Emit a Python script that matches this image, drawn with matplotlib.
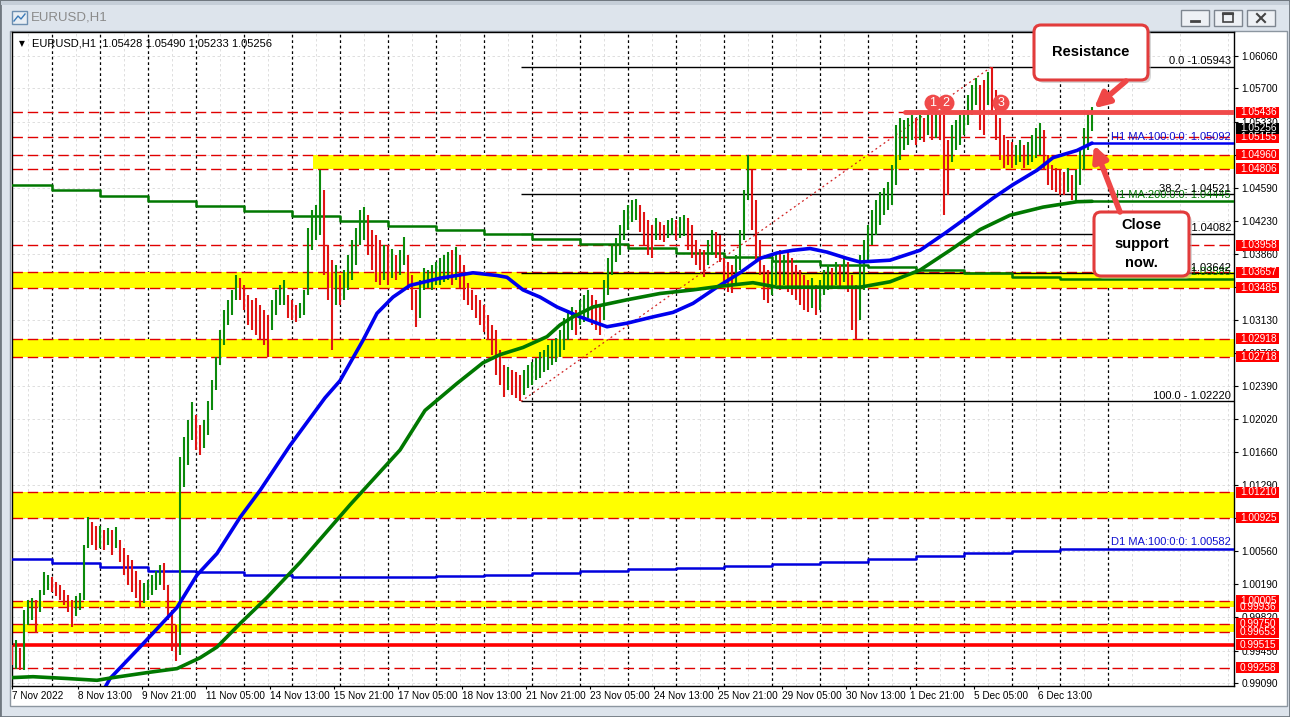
import matplotlib
matplotlib.use("Agg")
import matplotlib.pyplot as plt
from matplotlib.patches import Rectangle, FancyBboxPatch
import numpy as np

W, H = 1290, 717
SMALL = "Liberation Sans"

# hours are counted over trading time only, 0 = 7 Nov 2022 00:00
first_hour = 4
bar_step = 2   # two-hour bars

bar_high = [
    0.9951, 0.9957, 0.9948, 0.9990, 1.0001, 1.0004, 1.0001, 1.0012, 1.0032, 1.0029,
    1.0027, 1.0021, 1.0018, 1.0012, 1.0007, 1.0001, 1.0006, 1.0009, 1.0062, 1.0093, 1.0088, 1.0084,
    1.0084, 1.0079, 1.0081, 1.0079, 1.0082, 1.0068, 1.0059, 1.0051, 1.0046, 1.0034, 1.0023, 1.0020,
    1.0023, 1.0029, 1.0034, 1.0040, 1.0042, 1.0018, 0.9990, 0.9973, 1.0160, 1.0182, 1.0201, 1.0221,
    1.0207, 1.0196, 1.0201, 1.0223, 1.0246, 1.0271, 1.0301, 1.0324, 1.0335, 1.0346, 1.0362, 1.0359,
    1.0351, 1.0340, 1.0335, 1.0337, 1.0329, 1.0324, 1.0318, 1.0335, 1.0346, 1.0351, 1.0357, 1.0340,
    1.0335, 1.0329, 1.0331, 1.0346, 1.0415, 1.0435, 1.0440, 1.0479, 1.0457, 1.0396, 1.0379, 1.0374,
    1.0362, 1.0368, 1.0385, 1.0401, 1.0415, 1.0435, 1.0438, 1.0429, 1.0413, 1.0407, 1.0401, 1.0396,
    1.0396, 1.0392, 1.0385, 1.0390, 1.0405, 1.0385, 1.0362, 1.0346, 1.0357, 1.0370, 1.0368, 1.0374,
    1.0377, 1.0381, 1.0385, 1.0388, 1.0390, 1.0394, 1.0385, 1.0374, 1.0354, 1.0346, 1.0340, 1.0335,
    1.0329, 1.0318, 1.0307, 1.0301, 1.0279, 1.0262, 1.0260, 1.0257, 1.0255, 1.0251, 1.0257, 1.0262,
    1.0266, 1.0270, 1.0277, 1.0279, 1.0285, 1.0290, 1.0292, 1.0301, 1.0315, 1.0324, 1.0327, 1.0324,
    1.0335, 1.0340, 1.0346, 1.0340, 1.0335, 1.0329, 1.0357, 1.0381, 1.0396, 1.0404, 1.0418, 1.0435,
    1.0440, 1.0446, 1.0447, 1.0440, 1.0433, 1.0424, 1.0418, 1.0426, 1.0421, 1.0418, 1.0424, 1.0426,
    1.0424, 1.0427, 1.0429, 1.0426, 1.0418, 1.0401, 1.0392, 1.0390, 1.0401, 1.0413, 1.0410, 1.0407,
    1.0381, 1.0377, 1.0374, 1.0385, 1.0413, 1.0457, 1.0496, 1.0479, 1.0446, 1.0401, 1.0374, 1.0368,
    1.0379, 1.0388, 1.0390, 1.0385, 1.0388, 1.0381, 1.0374, 1.0368, 1.0362, 1.0357, 1.0359, 1.0351,
    1.0357, 1.0368, 1.0374, 1.0370, 1.0377, 1.0374, 1.0381, 1.0377, 1.0362, 1.0351, 1.0385, 1.0401,
    1.0418, 1.0435, 1.0446, 1.0455, 1.0459, 1.0466, 1.0485, 1.0529, 1.0537, 1.0535, 1.0537, 1.0540,
    1.0537, 1.0540, 1.0537, 1.0544, 1.0540, 1.0543, 1.0544, 1.0540, 1.0513, 1.0529, 1.0535, 1.0540,
    1.0546, 1.0563, 1.0574, 1.0582, 1.0574, 1.0579, 1.0588, 1.0594, 1.0568, 1.0537, 1.0518, 1.0513,
    1.0510, 1.0507, 1.0513, 1.0507, 1.0510, 1.0518, 1.0526, 1.0531, 1.0524, 1.0496, 1.0485, 1.0481,
    1.0479, 1.0477, 1.0481, 1.0474, 1.0479, 1.0501, 1.0526, 1.0544, 1.0549,
]
bar_low = [
    0.9929, 0.9925, 0.9923, 0.9923, 0.9973, 0.9979, 0.9965, 0.9988, 1.0007, 1.0012,
    1.0010, 1.0006, 1.0001, 0.9996, 0.9988, 0.9971, 0.9984, 0.9990, 1.0001, 1.0059, 1.0062, 1.0057,
    1.0059, 1.0057, 1.0062, 1.0051, 1.0059, 1.0043, 1.0029, 1.0018, 1.0010, 1.0003, 0.9992, 0.9998,
    1.0001, 1.0007, 1.0012, 1.0018, 1.0012, 0.9979, 0.9945, 0.9934, 0.9940, 1.0127, 1.0151, 1.0179,
    1.0168, 1.0162, 1.0170, 1.0185, 1.0212, 1.0235, 1.0262, 1.0285, 1.0307, 1.0318, 1.0335, 1.0335,
    1.0324, 1.0307, 1.0301, 1.0296, 1.0290, 1.0285, 1.0271, 1.0301, 1.0318, 1.0329, 1.0329, 1.0315,
    1.0312, 1.0310, 1.0315, 1.0318, 1.0340, 1.0390, 1.0401, 1.0407, 1.0362, 1.0335, 1.0279, 1.0329,
    1.0329, 1.0335, 1.0346, 1.0357, 1.0374, 1.0396, 1.0401, 1.0385, 1.0368, 1.0355, 1.0351, 1.0357,
    1.0351, 1.0359, 1.0357, 1.0362, 1.0374, 1.0346, 1.0324, 1.0305, 1.0315, 1.0346, 1.0348, 1.0346,
    1.0351, 1.0351, 1.0355, 1.0357, 1.0351, 1.0357, 1.0348, 1.0335, 1.0329, 1.0324, 1.0315, 1.0307,
    1.0299, 1.0290, 1.0274, 1.0251, 1.0240, 1.0227, 1.0235, 1.0229, 1.0226, 1.0222, 1.0229, 1.0237,
    1.0240, 1.0246, 1.0248, 1.0255, 1.0257, 1.0262, 1.0266, 1.0271, 1.0279, 1.0290, 1.0301, 1.0296,
    1.0307, 1.0310, 1.0315, 1.0307, 1.0301, 1.0296, 1.0312, 1.0340, 1.0362, 1.0377, 1.0385, 1.0401,
    1.0413, 1.0421, 1.0424, 1.0410, 1.0396, 1.0385, 1.0381, 1.0401, 1.0401, 1.0399, 1.0404, 1.0407,
    1.0401, 1.0404, 1.0406, 1.0390, 1.0382, 1.0374, 1.0368, 1.0360, 1.0374, 1.0385, 1.0381, 1.0377,
    1.0351, 1.0344, 1.0342, 1.0351, 1.0368, 1.0401, 1.0446, 1.0413, 1.0379, 1.0362, 1.0335, 1.0331,
    1.0340, 1.0351, 1.0346, 1.0351, 1.0344, 1.0340, 1.0335, 1.0329, 1.0324, 1.0321, 1.0326, 1.0318,
    1.0324, 1.0340, 1.0346, 1.0348, 1.0351, 1.0348, 1.0355, 1.0344, 1.0301, 1.0290, 1.0312, 1.0346,
    1.0379, 1.0396, 1.0407, 1.0418, 1.0429, 1.0435, 1.0440, 1.0463, 1.0490, 1.0501, 1.0507, 1.0513,
    1.0507, 1.0513, 1.0510, 1.0518, 1.0513, 1.0515, 1.0513, 1.0429, 1.0451, 1.0488, 1.0501, 1.0507,
    1.0518, 1.0529, 1.0540, 1.0552, 1.0524, 1.0518, 1.0552, 1.0540, 1.0513, 1.0490, 1.0481, 1.0485,
    1.0481, 1.0485, 1.0488, 1.0481, 1.0485, 1.0488, 1.0493, 1.0496, 1.0479, 1.0463, 1.0457, 1.0455,
    1.0451, 1.0451, 1.0455, 1.0446, 1.0444, 1.0463, 1.0479, 1.0501, 1.0523,
]
last_ohlc = [1.05428, 1.05490, 1.05233, 1.05256]

# daily moving averages, one value per trading day (7 Nov .. 7 Dec)
d1_ma100 = [1.0047, 1.0042, 1.0038, 1.0033, 1.0032, 1.0029, 1.0027, 1.0027, 1.0027, 1.0028,
            1.0029, 1.0031, 1.0033, 1.0036, 1.0037, 1.0039, 1.0041, 1.0043, 1.0047, 1.0050,
            1.0053, 1.0056, 1.00582]
d1_ma200 = [1.04626, 1.04570, 1.04504, 1.04448, 1.04393, 1.04337, 1.04281, 1.04226, 1.04170,
            1.04126, 1.04081, 1.04026, 1.03970, 1.03926, 1.03870, 1.03826, 1.03781, 1.03737,
            1.03715, 1.03681, 1.03648, 1.03603, 1.03585]

# hourly moving averages
h1_ma100_hours = [47, 53, 68, 86.5, 96.5, 106.5, 118, 128, 143, 160.5, 168, 179.5, 186.5, 194.5,
                  203, 218, 234.5, 246.5, 251.5, 259.5, 268, 276.5, 288, 301.5, 311.5, 324.5,
                  334.5, 344.5, 356.5, 368, 378, 386.5, 394.5, 403, 411.5, 421.5, 428, 443, 458,
                  470.5, 483, 494.5, 504.5, 516.5, 524.5, 536.5, 544]
h1_ma100 = [0.9890, 0.9914, 0.9949, 0.9993, 1.0029, 1.0053, 1.0093, 1.0123, 1.0173, 1.0226,
            1.0245, 1.0290, 1.0320, 1.0338, 1.0351, 1.0359, 1.0365, 1.0362, 1.0360, 1.0346,
            1.0338, 1.0327, 1.0316, 1.0305, 1.0309, 1.0316, 1.0321, 1.0331, 1.0349, 1.0365,
            1.0381, 1.0387, 1.0390, 1.0392, 1.0388, 1.0381, 1.0377, 1.0379, 1.0390, 1.0409,
            1.0429, 1.0448, 1.0463, 1.0479, 1.0493, 1.0501, 1.05092]
h1_ma200_hours = [4, 14.5, 31.5, 46.5, 54.5, 73, 86.5, 98, 106.5, 118, 131.5, 148, 173, 198,
                  210.5, 226.5, 239.5, 248, 259.5, 271.5, 278, 284.5, 294.5, 311.5, 328, 344.5,
                  358, 374.5, 386.5, 419.5, 428, 443, 458, 473, 488, 503, 519.5, 536.5, 544]
h1_ma200 = [0.9915, 0.9916, 0.9914, 0.9912, 0.9915, 0.9921, 0.9925, 0.9937, 0.9949, 0.9975,
            1.0004, 1.0043, 1.0107, 1.0168, 1.0212, 1.0242, 1.0265, 1.0274, 1.0282, 1.0294,
            1.0307, 1.0316, 1.0327, 1.0335, 1.0342, 1.0346, 1.0350, 1.0354, 1.0349, 1.0349,
            1.0349, 1.0355, 1.0368, 1.0390, 1.0413, 1.0429, 1.0438, 1.0444, 1.04445]

# horizontal levels
zones = [(1.04806, 1.04960, 154.5), (1.03485, 1.03657, 0), (1.02718, 1.02918, 0),
         (1.00925, 1.01210, 0), (0.99936, 1.00005, 0), (0.99653, 0.99750, 0)]
dashed_levels = [1.05436, 1.05155, 1.04960, 1.04806, 1.03958, 1.03657, 1.03485, 1.02918,
                 1.02718, 1.01210, 1.00925, 1.00005, 0.99936, 0.99750, 0.99653, 0.99258]
label_levels = [1.05436, 1.05155, 1.04960, 1.04806, 1.03958, 1.03657, 1.03485, 1.02918,
                1.02718, 1.01210, 1.00925, 1.00005, 0.99936, 0.99750, 0.99653, 0.99515, 0.99258]
support = 0.99515
resistance = 1.05436
resistance_start = 450.5
touch_hours = [464.5, 471, 498.5]

fib_levels = [0.0, 38.2, 50.0, 61.8, 100.0]
fib_high, fib_low = 1.05943, 1.02220
fib_low_hour, fib_high_hour = 258.5, 494

y_ticks = [1.06060, 1.05700, 1.05330, 1.04960, 1.04590, 1.04230, 1.03860, 1.03490, 1.03130,
           1.02760, 1.02390, 1.02020, 1.01660, 1.01290, 1.00920, 1.00560, 1.00190, 0.99820,
           0.99450, 0.99090]
time_ticks = [4, 37, 69, 101, 133, 165, 197, 229, 261, 293, 325, 357, 389, 421, 453, 485, 517]
time_labels = ["7 Nov 2022", "8 Nov 13:00", "9 Nov 21:00", "11 Nov 05:00", "14 Nov 13:00",
               "15 Nov 21:00", "17 Nov 05:00", "18 Nov 13:00", "21 Nov 21:00", "23 Nov 05:00",
               "24 Nov 13:00", "25 Nov 21:00", "29 Nov 05:00", "30 Nov 13:00", "1 Dec 21:00",
               "5 Dec 05:00", "6 Dec 13:00"]
day_starts = [24 * d for d in range(len(d1_ma100))]

# ---------------------------------------------------------------- window frame
fig = plt.figure(figsize=(W / 100, H / 100), dpi=100)
bg = fig.add_axes([0, 0, 1, 1], zorder=0)
bg.set_xlim(0, W)
bg.set_ylim(H, 0)
bg.axis("off")
bg.add_patch(Rectangle((0, 0), W, H, fc="#dde4ec", ec="#707880", lw=2))
bg.add_patch(Rectangle((1, 1), W - 2, 4, fc="#c5ced8", ec="none"))
bg.add_patch(Rectangle((10, 31), 1277, 675, fc="white", ec="#8c96a0", lw=1))
bg.text(31, 18, "EURUSD,H1", fontsize=9.5, color="#8a8a8a", va="center", family=SMALL)
bg.add_patch(Rectangle((12, 11), 15, 13, fc="#e8eef4", ec="#6d8fb0", lw=1))
bg.plot([14, 18, 21, 25], [21, 16, 19, 14], color="#3a7ab8", lw=1)
for bx, glyph in [(1181, "min"), (1214, "max"), (1247, "close")]:
    bg.add_patch(Rectangle((bx, 10), 28, 16, fc="#eef1f5", ec="#7e8690", lw=1))
    cx = bx + 14
    if glyph == "min":
        bg.plot([cx - 4, cx + 4], [21, 21], color="#444", lw=2)
    elif glyph == "max":
        bg.add_patch(Rectangle((cx - 5, 13), 10, 9, fc="none", ec="#444", lw=1.2))
        bg.plot([cx - 5, cx + 5], [14, 14], color="#444", lw=1.5)
    else:
        bg.plot([cx - 4, cx + 4], [14, 22], color="#444", lw=1.5)
        bg.plot([cx - 4, cx + 4], [22, 14], color="#444", lw=1.5)

# ---------------------------------------------------------------- chart axes
px_left, px_right, px_top, px_bottom = 12, 1234, 32, 686
ax = fig.add_axes([px_left / W, 1 - px_bottom / H, (px_right - px_left) / W,
                   (px_bottom - px_top) / H], zorder=1)
ppx = (1.06060 - 0.99090) / (683 - 56)
ax.set_ylim(0.99090 - (px_bottom - 683) * ppx, 1.06060 + (56 - px_top) * ppx)
x_right = (px_right - 4) / 2
ax.set_xlim((px_left - 4) / 2, x_right)
ax.set_facecolor("white")
for s in ax.spines.values():
    s.set_color("black")
    s.set_linewidth(1)

ax.yaxis.tick_right()
ax.set_yticks(y_ticks)
ax.set_yticklabels([f"{v:.5f}" for v in y_ticks], family=SMALL)
ax.tick_params(axis="y", direction="out", length=3, width=0.8, labelsize=7.3, pad=2.2)
ax.set_xticks(time_ticks)
ax.set_xticklabels(time_labels, family=SMALL)
ax.tick_params(axis="x", direction="out", length=2.5, width=0.8, labelsize=7.2, pad=0.8)
for lbl in ax.get_xticklabels():
    lbl.set_ha("left")

# light grid and daily separators
for v in y_ticks:
    ax.axhline(v, color="#d9d9d9", lw=0.6, dashes=(3, 3), zorder=0.5)
for g in np.arange(12, x_right, 24):
    ax.axvline(g, color="#d9d9d9", lw=0.6, dashes=(3, 3), zorder=0.5)
for s in day_starts[1:] + [day_starts[-1] + 24]:
    ax.axvline(s, color="black", lw=0.9, dashes=(2.2, 2.2), zorder=0.8)

# yellow zones and level lines
for lo, hi, start in zones:
    ax.fill_between([max(start, 0), x_right], lo, hi, color="#ffff00", lw=0, zorder=1)
for v in dashed_levels:
    ax.axhline(v, color="#e00000", lw=1, dashes=(7.5, 3.5), zorder=2)
ax.axhline(support, color="#ff0000", lw=2.6, zorder=2.2)

# fibonacci retracement
fib_prices = [fib_high - lv / 100 * (fib_high - fib_low) for lv in fib_levels]
ax.hlines(fib_prices, fib_low_hour, x_right, color="black", lw=1, zorder=2.5)
ax.plot([fib_low_hour, fib_high_hour], [fib_low, fib_high], color="#d02020",
        lw=0.9, dashes=(1.5, 2.5), zorder=2.5)
for lv, p in zip(fib_levels, fib_prices):
    txt = f"{lv:.1f} -{p:.5f}" if lv == 0 else f"{lv:.1f} - {p:.5f}"
    ax.text(x_right - 1.5, p + 0.5 * ppx, txt, ha="right", va="bottom", fontsize=8,
            family=SMALL, color="black", zorder=3)

# daily moving averages (stepped) and hourly moving averages
ax.step(day_starts + [x_right], d1_ma100 + [d1_ma100[-1]], where="post",
        color="#0000dd", lw=1.8, zorder=3)
ax.step(day_starts + [x_right], d1_ma200 + [d1_ma200[-1]], where="post",
        color="#007800", lw=1.8, zorder=3)

# price bars
hours = first_hour + bar_step * np.arange(len(bar_high))
mid = (np.array(bar_high) + np.array(bar_low)) / 2
up = np.r_[False, mid[1:] >= mid[:-1]]
ax.vlines(hours, bar_low, bar_high, colors=np.where(up, "#0b8a0b", "#e01414"),
          lw=1.5, zorder=4)

ax.plot(h1_ma100_hours, h1_ma100, color="#0000ee", lw=2.6, zorder=5,
        solid_capstyle="round")
ax.plot(h1_ma200_hours, h1_ma200, color="#007800", lw=2.6, zorder=5,
        solid_capstyle="round")
ax.plot([h1_ma100_hours[-1], x_right], [h1_ma100[-1]] * 2, color="#0000ee", lw=1.8, zorder=5)
ax.plot([h1_ma200_hours[-1], x_right], [h1_ma200[-1]] * 2, color="#007800", lw=1.8, zorder=5)

ma_texts = [("H1 MA:100:0:0: %.5f" % h1_ma100[-1], h1_ma100[-1], "#1010d0"),
            ("H1 MA:200:0:0: %.5f" % h1_ma200[-1], h1_ma200[-1], "#007800"),
            ("D1 MA:100:0:0: %.5f" % d1_ma100[-1], d1_ma100[-1], "#1010d0"),
            ("D1 MA:200:0:0: %.5f" % d1_ma200[-1], d1_ma200[-1], "#007800")]
for txt, p, c in ma_texts:
    ax.text(x_right - 1.5, p + 1.5 * ppx, txt, ha="right", va="bottom", fontsize=8,
            family=SMALL, color=c, zorder=2.8)

# resistance line with numbered touches
ax.plot([resistance_start, x_right], [resistance, resistance], color="#f04a4a", lw=3.5,
        zorder=6, solid_capstyle="round")
for n, h in enumerate(touch_hours, 1):
    ax.annotate(str(n), (h, resistance), xytext=(0, 9), textcoords="offset pixels",
                ha="center", va="center", fontsize=9, color="white", family=SMALL,
                bbox=dict(boxstyle="circle,pad=0.2", fc="#f04a4a", ec="none"), zorder=7)

# header line
ax.text(0.006, 0.983, "\u25bc", transform=ax.transAxes, fontsize=5.5, va="center")
ax.text(0.016, 0.983, "EURUSD,H1  " + " ".join(f"{v:.5f}" for v in last_ohlc),
        transform=ax.transAxes, fontsize=8, family=SMALL, va="center")

# ---------------------------------------------------------------- overlay: price tags, callouts
ov = fig.add_axes([0, 0, 1, 1], zorder=10)
ov.set_xlim(0, W)
ov.set_ylim(H, 0)
ov.axis("off")
ov.patch.set_alpha(0)
fig.canvas.draw()


def to_px(h, p):
    dx, dy = ax.transData.transform((h, p))
    return dx, H - dy


def price_tag(v, colour):
    _, y = to_px(x_right, v)
    ov.add_patch(Rectangle((px_right + 2, y - 5.5), 43, 11, fc=colour, ec="none"))
    ov.text(px_right + 6, y, f"{v:.5f}", ha="left", va="center", fontsize=7.3,
            family=SMALL, color="white")


for v in label_levels:
    price_tag(v, "#ff0000")
price_tag(last_ohlc[3], "black")


def callout(x, y, w, h, text):
    ov.add_patch(FancyBboxPatch((x + 3, y + 3), w, h, boxstyle="round,pad=0,rounding_size=7",
                                fc="#b0b0b0", ec="none", alpha=0.5))
    ov.add_patch(FancyBboxPatch((x, y), w, h, boxstyle="round,pad=0,rounding_size=7",
                                fc="white", ec="#e23c3c", lw=2.2))
    ov.text(x + w / 2, y + h / 2, text, ha="center", va="center", fontsize=10.5,
            fontweight="bold", family="Liberation Sans", linespacing=1.45)


arrow = dict(arrowstyle="-|>,head_length=0.9,head_width=0.45", lw=4, color="#ef4646",
             shrinkA=0, shrinkB=0)
tip = to_px(hours[-1], bar_high[-1])
ov.annotate("", xy=(tip[0] + 2, tip[1] + 1), xytext=(1126, 81), arrowprops=arrow)
tip = to_px(h1_ma100_hours[-1], h1_ma100[-1])
ov.annotate("", xy=(tip[0] + 2, tip[1] + 2), xytext=(1120, 212), arrowprops=arrow)
callout(1034, 25, 114, 55, "Resistance")
callout(1094, 212, 95, 64, "Close\nsupport\nnow.")

fig.savefig("out.png", dpi=100)
